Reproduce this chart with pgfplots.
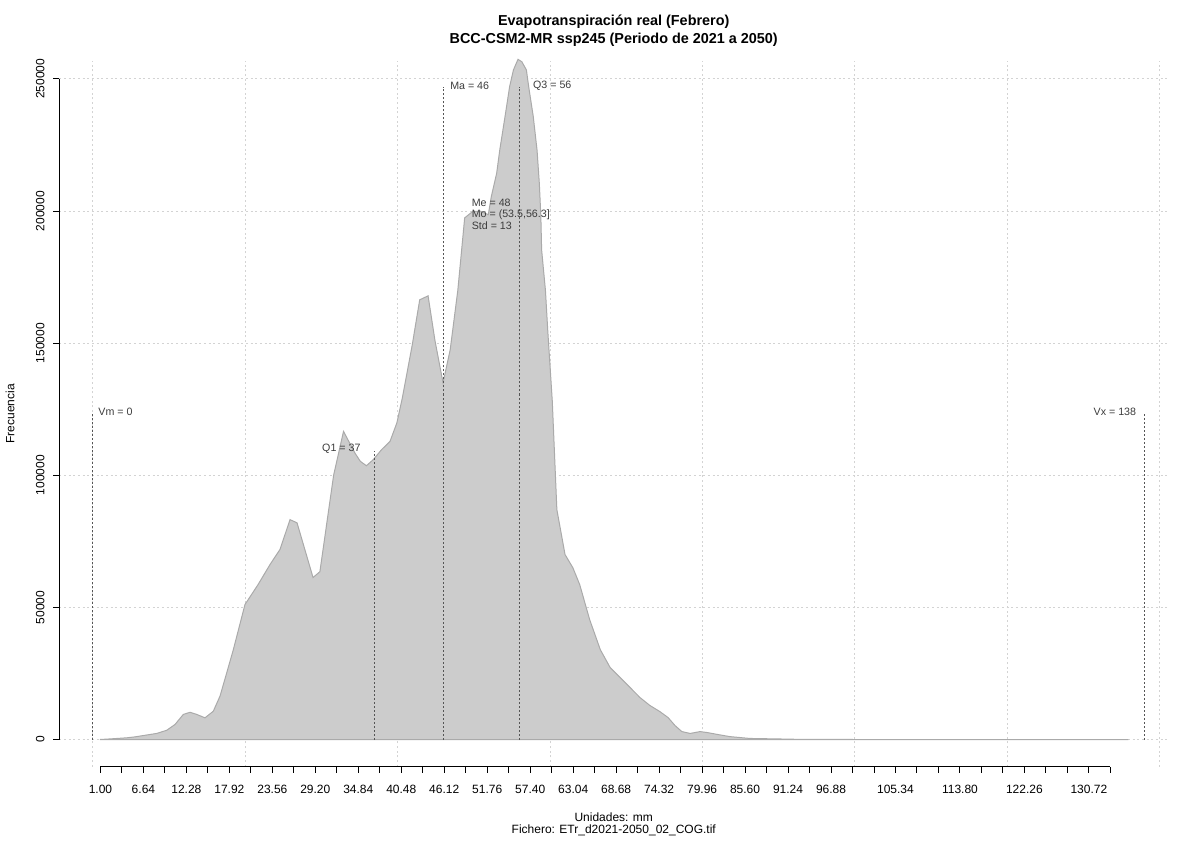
\documentclass[border=0pt]{standalone}
\usepackage{pgfplots}
\pgfplotsset{compat=1.18}
\usepackage{fontspec}
\setmainfont{Liberation Sans}
\definecolor{areafill}{RGB}{204,204,204}
\definecolor{areadraw}{RGB}{170,170,170}
\definecolor{gridc}{RGB}{211,211,211}
\definecolor{annc}{RGB}{85,85,85}
\definecolor{anntext}{RGB}{60,60,60}
\pgfplotstableread{
x y
0.94 0
2.48 260
4.45 640
5.54 1000
6.63 1500
8.39 2300
9.70 3500
10.79 5700
11.88 9500
12.76 10300
13.63 9500
14.72 8200
15.81 10700
16.69 16400
17.57 25200
18.44 34000
19.97 51100
21.68 58600
23.25 66200
24.56 71900
25.88 83200
26.80 82000
28.90 61300
29.80 63500
31.60 100000
32.90 116600
34.40 108400
35.10 105300
35.90 103600
36.80 105900
37.90 109700
39.00 112800
39.90 119800
40.60 129000
41.90 149000
42.90 166400
44.00 167900
44.90 151000
45.96 135000
46.90 147500
47.90 170000
48.80 197400
49.80 199700
50.80 200000
51.90 198600
52.30 205500
53.00 214300
53.40 223000
54.10 235800
54.70 247100
55.20 253400
55.80 257400
56.30 256500
56.90 253400
57.20 247100
57.80 235800
58.30 223000
58.60 210400
58.80 197900
58.90 185300
59.40 170000
59.70 155000
60.30 128000
60.90 87000
61.97 70000
63.00 65000
63.90 58600
65.20 45400
66.60 34000
67.90 27200
69.20 23500
70.50 19700
71.80 15900
73.10 12900
74.40 10600
75.50 8300
76.40 5300
77.30 3000
78.40 2300
79.70 3000
80.70 2600
82.00 1900
83.60 1100
86.20 400
90.20 200
92.80 50
100.0 0
135.9 0
}\dens
\begin{document}
\begin{tikzpicture}
\useasboundingbox (0,0) rectangle (900pt,630pt);
\begin{axis}[
  at={(44.475pt,55pt)}, anchor=south west,
  scale only axis, width=831.5pt, height=529.5pt,
  xmin=-4.4, xmax=141.1, ymin=-10280, ymax=256900,
  clip=false,
  axis line style={draw=none},
  tick align=outside, xtick pos=lower, ytick pos=left,
  major tick length=4.5pt,
  tick style={black, line width=0.75pt},
  xtick={1.00,3.82,6.64,9.46,12.28,15.10,17.92,20.74,23.56,26.38,29.20,32.02,34.84,37.66,40.48,43.30,46.12,48.94,51.76,54.58,57.40,60.22,63.04,65.86,68.68,71.50,74.32,77.14,79.96,82.78,85.60,88.42,91.24,94.06,96.88,99.70,102.52,105.34,108.16,110.98,113.80,116.62,119.44,122.26,125.08,127.90,130.72,133.54},
  xticklabels={1.00,,6.64,,12.28,,17.92,,23.56,,29.20,,34.84,,40.48,,46.12,,51.76,,57.40,,63.04,,68.68,,74.32,,79.96,,85.60,,91.24,,96.88,,,105.34,,,113.80,,,122.26,,,130.72,},
  minor xtick={0,20,40,60,80,100,120,140},
  minor tick length=0pt,
  xminorgrids=true,
  ytick={0,50000,100000,150000,200000,250000},
  ymajorgrids=true,
  scaled y ticks=false,
  yticklabel style={/pgf/number format/fixed,/pgf/number format/1000 sep={}, rotate=90, anchor=base, yshift=6.75pt},
  xticklabel style={yshift=-5.5pt},
  ticklabel style={font=\fontsize{9}{10}\selectfont},
  /pgf/number format/assume math mode=true,
  grid style={gridc, line width=0.75pt, dash pattern=on 1.5pt off 2pt},
  minor grid style={gridc, line width=0.75pt, dash pattern=on 1.5pt off 2pt},
]
\addplot[fill=areafill, draw=areadraw, line width=0.75pt] table[x=x,y=y] {\dens} --cycle;
% axis lines
\draw[black, line width=0.75pt] (axis cs:1.00,-10280) -- (axis cs:133.54,-10280);
\draw[black, line width=0.75pt] (axis cs:-4.4,0) -- (axis cs:-4.4,250000);
% annotation lines
\begin{scope}[annc, line width=0.75pt, dash pattern=on 1.5pt off 1.5pt]
\draw (axis cs:0,0) -- (axis cs:0,124000);
\draw (axis cs:138,0) -- (axis cs:138,123000);
\draw (axis cs:37,0) -- (axis cs:37,109000);
\draw (axis cs:46,0) -- (axis cs:46,247100);
\draw (axis cs:56,0) -- (axis cs:56,247100);
\end{scope}
\begin{scope}[every node/.style={text=anntext, font=\fontsize{8}{9}\selectfont, inner sep=0pt}]
\node[anchor=west] at ([xshift=4pt]axis cs:0,124000) {Vm = 0};
\node[anchor=east] at ([xshift=-6pt]axis cs:138,124000) {Vx = 138};
\node[anchor=east] at ([xshift=-10.5pt]axis cs:37,110000) {Q1 = 37};
\node[anchor=west] at ([xshift=5pt]axis cs:46,247500) {Ma = 46};
\node[anchor=west] at ([xshift=10pt]axis cs:56,247500) {Q3 = 56};
\node[anchor=west] at (axis cs:49.7,203200) {Me = 48};
\node[anchor=west] at (axis cs:49.7,198600) {Mo = (53.5,56.3]};
\node[anchor=west] at (axis cs:49.7,194500) {Std = 13};
\end{scope}
\end{axis}
\node[font=\fontsize{10.8}{12}\selectfont\bfseries] at (460.3pt,613.5pt) {Evapotranspiración real (Febrero)};
\node[font=\fontsize{10.8}{12}\selectfont\bfseries] at (460.3pt,600pt) {BCC-CSM2-MR ssp245 (Periodo de 2021 a 2050)};
\node[font=\fontsize{9}{10}\selectfont] at (460.3pt,17.25pt) {Unidades: mm};
\node[font=\fontsize{9}{10}\selectfont] at (460.3pt,7.5pt) {Fichero: ETr\_d2021-2050\_02\_COG.tif};
\node[font=\fontsize{9}{10}\selectfont, rotate=90] at (7.5pt,319.7pt) {Frecuencia};
\end{tikzpicture}
\end{document}
